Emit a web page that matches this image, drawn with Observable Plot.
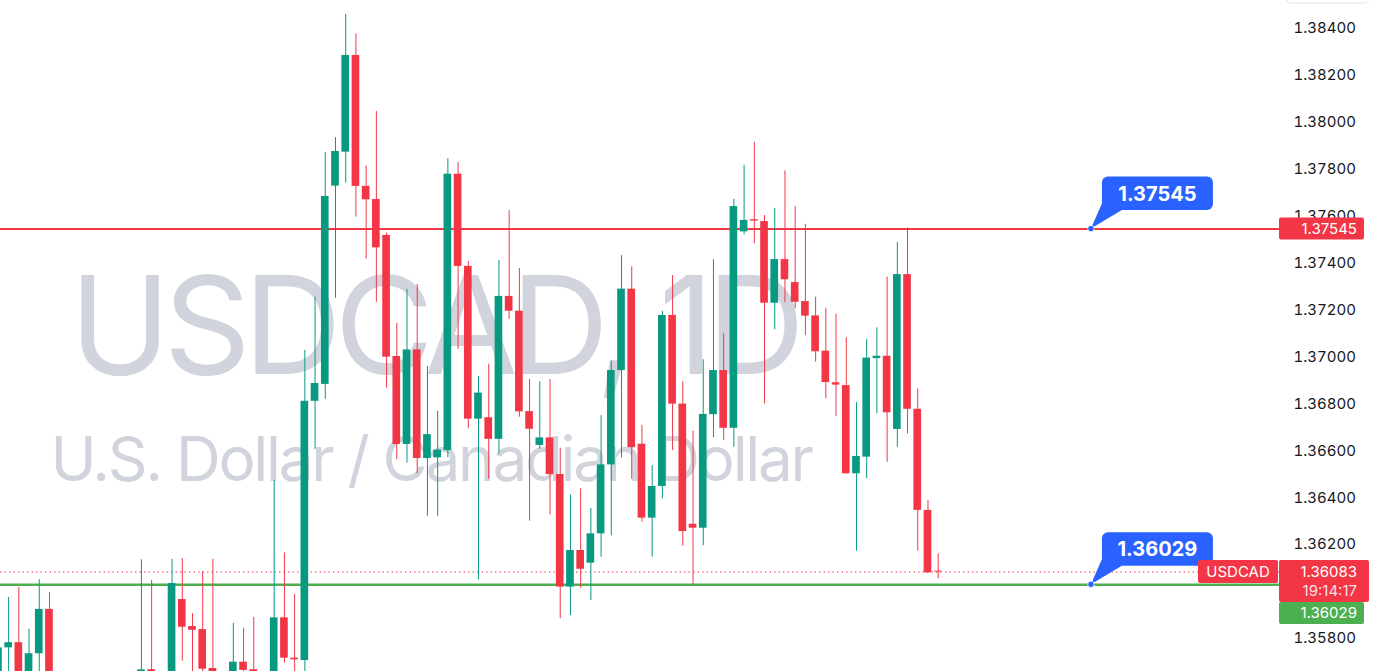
<!DOCTYPE html>
<html><head><meta charset="utf-8">
<script src="https://cdn.jsdelivr.net/npm/d3@7"></script>
<script src="https://cdn.jsdelivr.net/npm/@observablehq/plot@0.6"></script>
<style>
html,body{margin:0;padding:0;background:#fff;overflow:hidden}
#chart{width:1376px;height:671px;position:relative}
</style></head><body><div id="chart"></div>
<script>
// Daily USDCAD candles (bar index 0..92)
const opens = [1.35578,1.35760,1.35782,1.35600,1.35735,1.35924,1.35520,1.35450,1.35300,1.35380,
1.35270,1.35410,1.35500,1.35430,1.35640,1.35667,1.35600,1.35620,1.35966,1.35851,
1.35838,1.35672,1.35560,1.35530,1.35699,1.35667,1.35580,1.35610,1.35888,1.35716,
1.35706,1.36811,1.36883,1.37728,1.37873,1.38285,1.37727,1.37671,1.37518,1.37002,
1.36627,1.37030,1.36567,1.36570,1.36601,1.37779,1.37386,1.36735,1.36741,1.36649,
1.37258,1.37195,1.36767,1.36623,1.36655,1.36499,1.36019,1.36175,1.36121,1.36246,
1.36540,1.36942,1.37289,1.36628,1.36313,1.36448,1.37177,1.36799,1.36287,1.36270,
1.36754,1.36942,1.36696,1.37533,1.37585,1.37577,1.37229,1.37415,1.37317,1.37236,
1.37175,1.37025,1.36890,1.36878,1.36502,1.36573,1.36993,1.37003,1.36691,1.37351,
1.36777,1.36346,1.36087];
const highs = [1.35775,1.35975,1.36017,1.35840,1.36051,1.35996,1.35600,1.35510,1.35490,1.35470,
1.35520,1.35610,1.35630,1.35645,1.36135,1.36047,1.35640,1.36137,1.36141,1.35906,
1.36086,1.36137,1.35620,1.35865,1.35843,1.35890,1.35650,1.36473,1.36165,1.35987,
1.37028,1.37255,1.37871,1.37935,1.38460,1.38377,1.37813,1.38046,1.37528,1.37143,
1.37288,1.37309,1.36959,1.36768,1.37845,1.37829,1.37407,1.36917,1.36969,1.37411,
1.37624,1.37377,1.36904,1.36895,1.36904,1.36611,1.36412,1.36438,1.36354,1.36750,
1.36982,1.37432,1.37384,1.36708,1.36537,1.37194,1.37347,1.36895,1.36684,1.36988,
1.37414,1.37099,1.37672,1.37817,1.37915,1.37603,1.37633,1.37793,1.37641,1.37565,
1.37255,1.37207,1.37182,1.37082,1.36806,1.37074,1.37124,1.37340,1.37488,1.37550,
1.36864,1.36388,1.36161];
const lows = [1.35520,1.35580,1.35520,1.35560,1.35630,1.35480,1.35380,1.35220,1.35190,1.35150,
1.35200,1.35320,1.35350,1.35360,1.35560,1.35540,1.35500,1.35590,1.35703,1.35620,
1.35610,1.35500,1.35460,1.35480,1.35600,1.35530,1.35520,1.35560,1.35695,1.35600,
1.35620,1.36606,1.36819,1.37250,1.37741,1.37596,1.37418,1.37233,1.36867,1.36562,
1.36547,1.36502,1.36321,1.36321,1.36570,1.37033,1.36694,1.36050,1.36479,1.36587,
1.37160,1.36743,1.36300,1.36607,1.36327,1.35884,1.35898,1.36014,1.35962,1.36146,
1.36238,1.36570,1.36479,1.36296,1.36146,1.36395,1.36601,1.36193,1.36030,1.36196,
1.36655,1.36644,1.36615,1.37521,1.37482,1.36800,1.37116,1.37231,1.37205,1.37091,
1.36978,1.36822,1.36746,1.36500,1.36172,1.36481,1.36758,1.36551,1.36615,1.36672,
1.36172,1.36078,1.36054];
const closes = [1.35760,1.35782,1.35560,1.35735,1.35924,1.35520,1.35450,1.35300,1.35380,1.35270,
1.35410,1.35500,1.35430,1.35600,1.35666,1.35600,1.35580,1.36034,1.35848,1.35835,
1.35669,1.35560,1.35520,1.35699,1.35664,1.35580,1.35600,1.35888,1.35716,1.35709,
1.36811,1.36887,1.37684,1.37876,1.38285,1.37727,1.37670,1.37465,1.36999,1.36627,
1.37030,1.36567,1.36669,1.36603,1.37779,1.37386,1.36735,1.36846,1.36649,1.37258,
1.37195,1.36766,1.36692,1.36655,1.36499,1.36019,1.36175,1.36095,1.36246,1.36540,
1.36942,1.37289,1.36613,1.36313,1.36448,1.37177,1.36799,1.36256,1.36270,1.36755,
1.36942,1.36696,1.37641,1.37582,1.37579,1.37229,1.37415,1.37329,1.37233,1.37174,
1.37022,1.36891,1.36880,1.36502,1.36576,1.36995,1.37003,1.36762,1.37351,1.36777,
1.36346,1.36080,1.36083];

// 1.36000 is hidden behind the price tags in the original, so it is not listed
const yTicks = [1.358,1.362,1.364,1.366,1.368,1.370,1.372,1.374,1.376,1.378,1.380,1.382,1.384];
const levelPrices = [1.37545, 1.36029];
const levelColors = ["#F23645", "#4CAF50"];
const levelWidths = [2, 2.7];
const levelAnchorBar = 107;
const lastPrice = 1.36083;
const countdown = "19:14:17";
const symbol = "USDCAD";
const watermark1 = "USDCAD, 1D";
const watermark2 = "U.S. Dollar / Canadian Dollar";

const UP = "#089981", DOWN = "#F23645", BLUE = "#2962FF";

const bars = opens.map((o, i) => ({i, open: o, high: highs[i], low: lows[i], close: closes[i],
  color: closes[i] >= o ? UP : DOWN}));
const levels = levelPrices.map((p, k) => ({price: p, color: levelColors[k], width: levelWidths[k], bar: levelAnchorBar}));

const plot = Plot.plot({
  width: 1376, height: 671,
  marginLeft: 0, marginRight: 96, marginTop: 0, marginBottom: 0,
  style: {fontFamily: "Inter, 'Open Sans', sans-serif", fontSize: "15px", color: "#131722", background: "#fff", overflow: "visible"},
  x: {domain: [0.2056, 125.51], axis: null},
  y: {domain: [1.3565928, 1.3851935], axis: null},
  marks: [
    Plot.text([watermark1], {frameAnchor: "top-left", dx: 69, dy: 330, text: d => d, textAnchor: "start", lineAnchor: "middle", fontSize: 136, fill: "#D1D4DC", fontWeight: 400}),
    Plot.text([watermark2], {frameAnchor: "top-left", dx: 50, dy: 461, text: d => d, textAnchor: "start", lineAnchor: "middle", fontSize: 62, fill: "#D1D4DC", fontWeight: 400}),
    Plot.ruleY([lastPrice], {stroke: DOWN, strokeWidth: 1, strokeDasharray: "1.5,3"}),
    Plot.ruleY(levels, {y: "price", stroke: "color", strokeWidth: 2}),
    Plot.ruleX(bars, {x: "i", y1: "low", y2: "high", stroke: "color", strokeWidth: 1}),
    Plot.rect(bars, {x1: d => d.i - 0.375, x2: d => d.i + 0.375, y1: "open", y2: "close", fill: "color"}),
    Plot.axisY(yTicks, {anchor: "right", tickSize: 0, tickPadding: 13, tickFormat: d3.format(".5f"), fontSize: 15, label: null})
  ]
});
document.getElementById("chart").appendChild(plot);

const svg = d3.select(plot);
// tighten the watermark lettering
svg.selectAll("text").each(function() {
  const t = this.textContent;
  if (t === watermark1) d3.select(this).attr("letter-spacing", "-7.2px");
  if (t === watermark2) d3.select(this).attr("letter-spacing", "-2.3px");
});
// set level line widths
svg.selectAll("line").filter(function() { return d3.select(this).attr("stroke") === levelColors[1]; })
  .attr("stroke-width", levelWidths[1]);

const xs = plot.scale("x"), ys = plot.scale("y");
const g = svg.append("g").attr("font-family", "Inter, 'Open Sans', sans-serif");

// blue callouts for the two horizontal levels
levels.forEach(l => {
  const ax = xs.apply(l.bar), ay = ys.apply(l.price);
  g.append("path")
    .attr("d", `M${ax + 11},${ay - 25} L${ax + 31},${ay - 18.5} L${ax},${ay} Z`)
    .attr("fill", BLUE);
  g.append("rect").attr("x", ax + 11).attr("y", ay - 52).attr("width", 111).attr("height", 33.5)
    .attr("rx", 6).attr("fill", BLUE);
  g.append("text").attr("x", ax + 66.5).attr("y", ay - 35.2).attr("dy", "0.36em")
    .attr("text-anchor", "middle").attr("fill", "#fff").attr("font-size", 20).attr("font-weight", 700)
    .text(d3.format(".5f")(l.price));
  g.append("circle").attr("cx", ax).attr("cy", ay).attr("r", 3.2).attr("fill", BLUE)
    .attr("stroke", "#fff").attr("stroke-width", 0.8);
});

// price-scale tags
const px0 = 1279;
const yr = ys.apply(levelPrices[0]);
g.append("rect").attr("x", px0).attr("y", yr - 11).attr("width", 85).attr("height", 22).attr("rx", 2).attr("fill", levelColors[0]);
g.append("text").attr("x", 1357).attr("y", yr).attr("dy", "0.36em").attr("text-anchor", "end").attr("fill", "#fff").attr("font-size", 15).text(d3.format(".5f")(levelPrices[0]));

const yl = ys.apply(lastPrice);
g.append("rect").attr("x", 1198).attr("y", yl - 11.5).attr("width", 80).attr("height", 23).attr("rx", 2).attr("fill", DOWN);
g.append("text").attr("x", 1238).attr("y", yl).attr("dy", "0.36em").attr("text-anchor", "middle").attr("fill", "#fff").attr("font-size", 15).text(symbol);
g.append("rect").attr("x", px0).attr("y", yl - 11.5).attr("width", 90).attr("height", 42).attr("rx", 2).attr("fill", DOWN);
g.append("text").attr("x", 1357).attr("y", yl).attr("dy", "0.36em").attr("text-anchor", "end").attr("fill", "#fff").attr("font-size", 15).text(d3.format(".5f")(lastPrice));
g.append("text").attr("x", 1357).attr("y", yl + 19.5).attr("dy", "0.36em").attr("text-anchor", "end").attr("fill", "#fff").attr("fill-opacity", 0.85).attr("font-size", 15).text(countdown);

const yg = yl + 30.5;
g.append("rect").attr("x", px0).attr("y", yg).attr("width", 85).attr("height", 22).attr("rx", 2).attr("fill", levelColors[1]);
g.append("text").attr("x", 1357).attr("y", yg + 11).attr("dy", "0.36em").attr("text-anchor", "end").attr("fill", "#fff").attr("font-size", 15).text(d3.format(".5f")(levelPrices[1]));

// faint button outline at top-right
g.append("rect").attr("x", 1286).attr("y", -20).attr("width", 83).attr("height", 23).attr("rx", 5)
  .attr("fill", "#fff").attr("stroke", "#E0E3EB").attr("stroke-width", 1);
</script>
</body></html>
